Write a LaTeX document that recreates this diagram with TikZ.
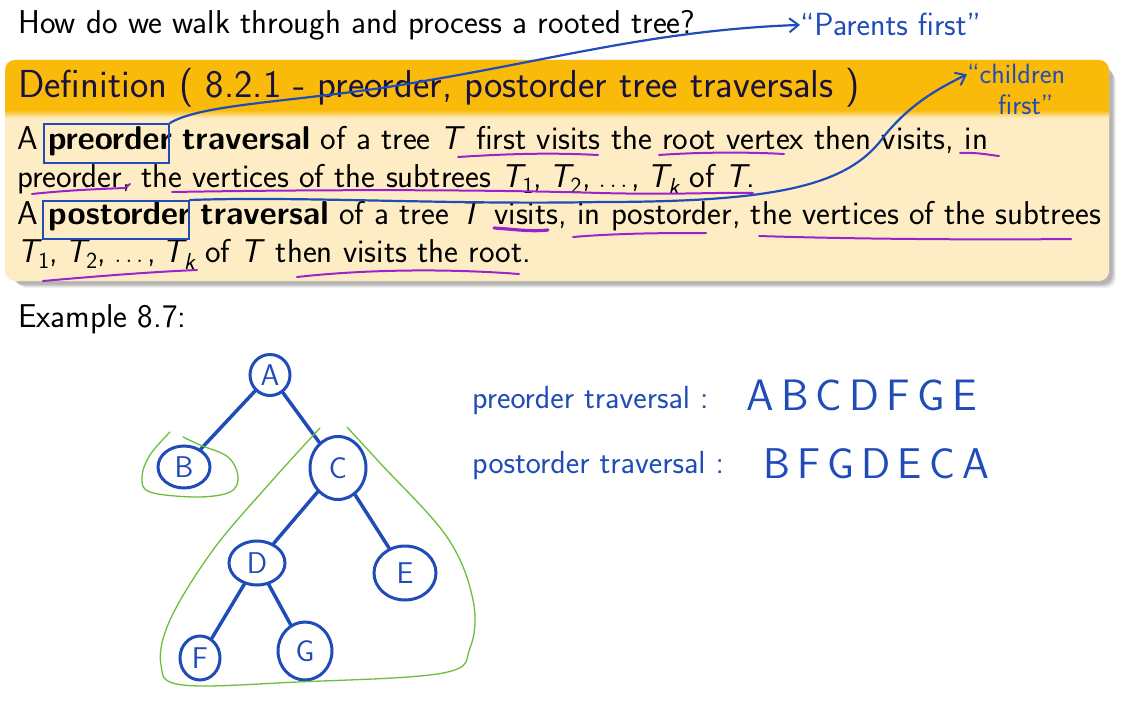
\documentclass[tikz,border=0pt]{standalone}
\usepackage{amstext}
\usetikzlibrary{shapes.geometric,arrows.meta}
\definecolor{hb}{RGB}{31,76,184}
\definecolor{hp}{RGB}{155,35,205}
\definecolor{hg}{RGB}{110,190,60}
\definecolor{hdr}{RGB}{250,186,10}
\definecolor{bdy}{RGB}{254,237,196}
\definecolor{ttl}{RGB}{25,18,60}
\newcommand\mT{\textsl{T}}
\newcommand\mTT[1]{\text{\slshape T}_{\text{#1}}}
\newcommand\Tlist{$\mTT{1}\text{,}\;\mTT{2}\text{,}\,\ldots\text{,}\;\mTT{\slshape k}$}
\tikzset{
  bodytext/.style={anchor=base west,inner sep=0pt,font=\fontsize{33}{40}\selectfont\sffamily},
  hdrtext/.style={anchor=base west,inner sep=0pt,text=ttl,font=\fontsize{39}{46}\selectfont\sffamily},
  hand/.style={draw=hb,line width=2.2pt,line cap=round,line join=round},
  handtext/.style={text=hb,inner sep=0pt,font=\fontsize{32}{36}\selectfont\sffamily},
  uline/.style={draw=hp,line width=2pt,line cap=round},
  grn/.style={draw=hg,line width=1.3pt,line cap=round},
  tnode/.style={ellipse,draw=hb,line width=3pt,text=hb,inner sep=0pt,font=\fontsize{30}{34}\selectfont\sffamily},
  tedge/.style={draw=hb,line width=3.5pt,line cap=round},
  hbox/.style={draw=hb,line width=2pt,rectangle,inner sep=0pt},
  harrow/.style={hand,-{Straight Barb[length=9pt,width=14pt,line width=2pt]}}
}
\begin{document}
\begin{tikzpicture}[x=1pt,y=-1pt]
\useasboundingbox (0,0) rectangle (1122,717);
\fill[white] (0,0) rectangle (1122,717);
% title
\node[bodytext] (q) at (18,34) {How do we walk through and process a rooted tree?};
% shadow
\foreach \o/\a in {12/0.05,10/0.07,8/0.09,6/0.11} {
  \fill[black,opacity=\a,rounded corners=10pt] (6+\o,60+\o) rectangle (1109+\o*0.6,281+\o*0.6);
}
% block
\fill[bdy,rounded corners=10pt] (5,60) rectangle (1109,281);
\fill[hdr,rounded corners=10pt] (5,60) rectangle (1109,120);
\fill[bdy] (5,112) rectangle (1109,125);
\shade[top color=hdr,bottom color=bdy] (5,110) rectangle (1109,118);
\node[hdrtext] (h) at (18,97) {Definition ( 8.2.1 - preorder, postorder tree traversals )};
\node[bodytext] (l1) at (17,149) {A \textbf{preorder} \textbf{traversal} of a tree \mT{} first visits the root vertex then visits, in};
\node[bodytext] (l2) at (17,187) {preorder, the vertices of the subtrees \Tlist{} of \mT.};
\node[bodytext] (l3) at (17,224) {A \textbf{postorder} \textbf{traversal} of a tree \mT{} visits, in postorder, the vertices of the subtrees};
\node[bodytext] (l4) at (17,262) {\Tlist{} of \mT{} then visits the root.};
\node[bodytext] (ex) at (18,327) {Example 8.7:};
% purple underlines
\draw[uline] (458,157) .. controls (520,153) and (560,153) .. (598,155);
\draw[uline] (659,155) .. controls (700,152) and (750,152) .. (784,154);
\draw[uline] (960,153) .. controls (975,152) and (990,155) .. (999,156);
\draw[uline] (32,194) .. controls (70,190) and (100,189) .. (125,188) -- (130,184);
\draw[uline] (172,192) .. controls (350,189) and (500,190) .. (600,193) .. controls (680,195) and (720,192) .. (753,193);
\draw[uline,line width=3.2pt] (494,228) .. controls (512,229) and (530,232) .. (548,230);
\draw[uline] (573,237) .. controls (620,233) and (670,233) .. (706,233);
\draw[uline] (759,236) .. controls (850,239) and (980,240) .. (1071,239);
\draw[uline] (43,281) .. controls (100,276) and (150,272) .. (197,270);
\draw[uline] (297,277) .. controls (360,270) and (440,268) .. (519,274);
% handwritten notes
\node[handtext,anchor=base west] (par) at (800,36) {``Parents first''};
\node[handtext,anchor=base west,font=\fontsize{28}{32}\selectfont\sffamily] (chi) at (967,84) {``children};
\node[handtext,anchor=base west,font=\fontsize{28}{32}\selectfont\sffamily] (chf) at (998,114) {first''};
\node[hbox,minimum width=125pt,minimum height=39pt,anchor=north west] (pre) at (43,123) {};
\node[hbox,minimum width=146pt,minimum height=38pt,anchor=north west] (post) at (42,200) {};
\draw[harrow] (pre.north east) .. controls (205,102) and (310,102) .. (430,80) .. controls (560,58) and (660,30) .. (par.west);
\draw[harrow] (post.north east) .. controls (300,196) and (450,205) .. (600,202) .. controls (780,202) and (850,185) .. (885,135) .. controls (910,105) and (935,90) .. (chi.west);
% tree
\node[tnode,minimum width=40pt,minimum height=41pt] (A) at (270,375) {A};
\node[tnode,minimum width=52pt,minimum height=42pt] (B) at (184,467) {B};
\node[tnode,minimum width=56pt,minimum height=63pt] (C) at (338,468) {C};
\node[tnode,minimum width=56pt,minimum height=44pt] (D) at (257,563) {D};
\node[tnode,minimum width=62pt,minimum height=54pt] (E) at (405,573) {E};
\node[tnode,minimum width=40pt,minimum height=44pt] (F) at (200,658) {F};
\node[tnode,minimum width=54pt,minimum height=58pt] (G) at (305,651) {G};
\draw[tedge] (A) -- (B);
\draw[tedge] (A) -- (C);
\draw[tedge] (C) -- (D);
\draw[tedge] (C) -- (E);
\draw[tedge] (D) -- (F);
\draw[tedge] (D) -- (G);
% green outlines
\draw[grn] plot[smooth,tension=0.6] coordinates {(170,432) (150,455) (142,477) (150,492) (197,497) (230,492) (238,477) (228,457) (200,445) (183,437)};
\draw[grn] plot[smooth,tension=0.6] coordinates {(320,428) (270,483) (213,550) (170,620) (161,665) (183,685) (297,682) (443,673) (470,648) (473,600) (447,537) (380,463) (347,427)};
% traversal results
\node[handtext,anchor=base west] (pt) at (472,408) {preorder traversal :};
\node[handtext,anchor=base west,font=\fontsize{44}{48}\selectfont\sffamily] (pr) at (746,410) {A\,B\,C\,D\,F\,G\,E};
\node[handtext,anchor=base west] (qt) at (472,473) {postorder traversal :};
\node[handtext,anchor=base west,font=\fontsize{43}{48}\selectfont\sffamily] (qr) at (763,478) {B\,F\,G\,D\,E\,C\,A};
\end{tikzpicture}
\end{document}
